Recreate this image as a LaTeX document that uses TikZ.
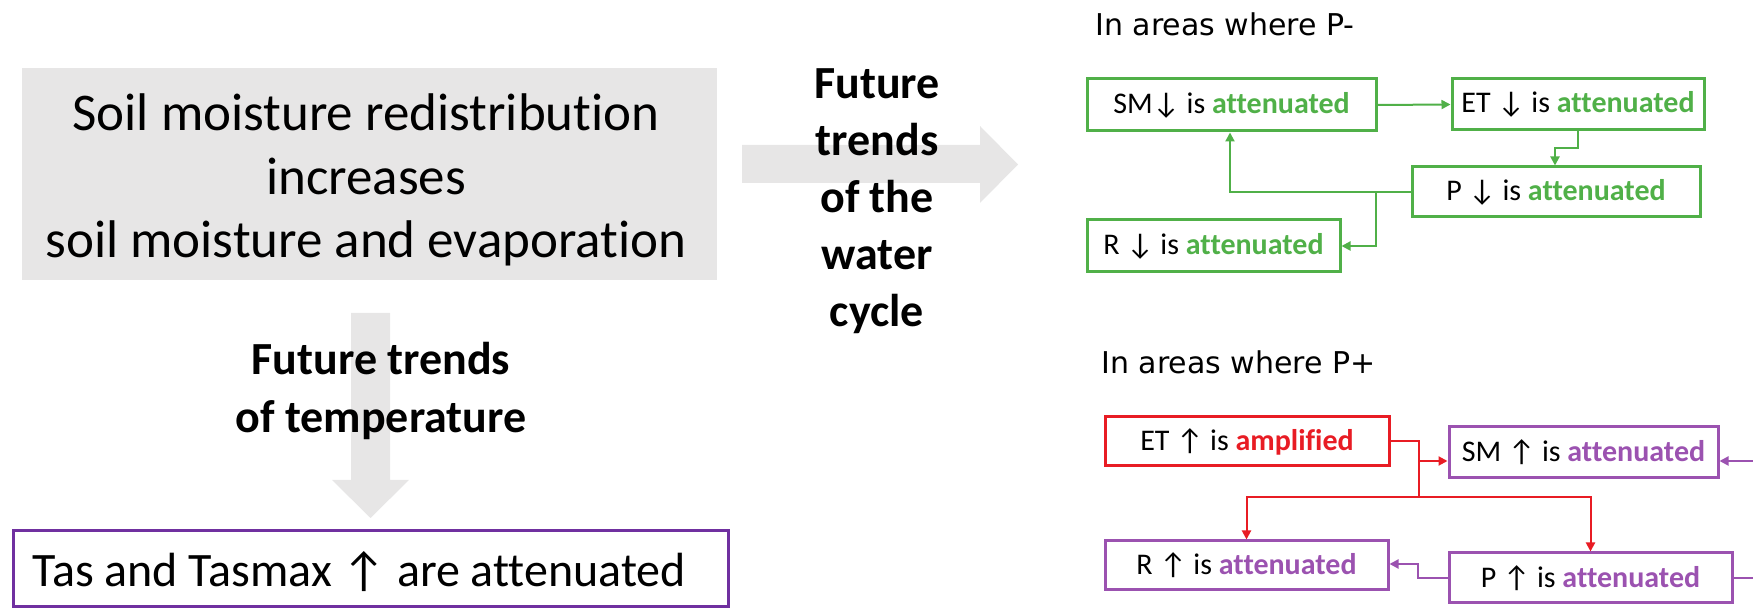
\documentclass[tikz,border=0pt]{standalone}
\usepackage{fontspec}
\setmainfont{Carlito}[Ligatures=NoCommon]
\newfontfamily\dejavu{DejaVu Sans}
\usetikzlibrary{arrows.meta}
\definecolor{grn}{RGB}{80,176,72}
\definecolor{prp}{RGB}{155,82,176}
\definecolor{rd}{RGB}{232,28,36}
\definecolor{dprp}{RGB}{112,48,160}
\definecolor{lgray}{RGB}{231,230,230}
\begin{document}
\begin{tikzpicture}[x=0.5pt,y=-0.5pt,
  box/.style={draw,line width=1.5pt,inner sep=0pt,font=\fontsize{15}{18}\selectfont},
  gbox/.style={box,draw=grn},
  pbox/.style={box,draw=prp},
  rbox/.style={box,draw=rd},
  conn/.style={line width=1pt},
  tip/.style={-{Triangle[length=4.5pt,width=4.5pt]}},
  headtxt/.style={font=\bfseries\fontsize{23}{28.5}\selectfont,align=center},
  areatxt/.style={font=\dejavu\fontsize{15}{18}\selectfont,anchor=base west,inner sep=0pt}
]
\useasboundingbox (0,0) rectangle (1753,608);

% grey source box
\node[fill=lgray,minimum width=347.5pt,minimum height=106pt,inner sep=0pt] (src) at (369.5,174) {};
\node[font=\fontsize{26.5}{31.8}\selectfont,align=center,inner sep=0pt] (srctxt) at (366,180)
  {Soil moisture redistribution\\increases\\soil moisture and evaporation};

% big grey arrows
\fill[lgray] (742,145) -- (980,145) -- (980,126) -- (1018,164.5) -- (980,203) -- (980,183) -- (742,183) -- cycle;
\fill[lgray] (351,313) -- (390,313) -- (390,480) -- (409,480) -- (370.5,518) -- (332,480) -- (351,480) -- cycle;

\node[headtxt] (wc) at (877,201) {Future\\trends\\of the\\water\\cycle};
\node[headtxt,font=\bfseries\fontsize{23}{29}\selectfont] (tt) at (381,391) {Future trends\\of temperature};

% temperature result
\node[draw=dprp,line width=1.5pt,minimum width=357.5pt,minimum height=38pt,inner sep=0pt] (tas) at (370.5,569) {};
\node[font=\fontsize{24}{28}\selectfont,anchor=base west,inner sep=0pt] (tastxt) at (32,587)
  {Tas and Tasmax ↑ are attenuated};

% P- block
\node[areatxt] (pminus) at (1095,36) {In areas where P-};
\node[gbox,minimum width=144.5pt,minimum height=26pt] (SMd) at (1231.5,105) {SM↓ is \textbf{\color{grn}attenuated}};
\node[gbox,minimum width=126pt,minimum height=25.5pt] (ETd) at (1578,104.5) {ET ↓ is \textbf{\color{grn}attenuated}};
\node[gbox,minimum width=144pt,minimum height=25pt] (Pd) at (1556,192) {P ↓ is \textbf{\color{grn}attenuated}};
\node[gbox,minimum width=126.5pt,minimum height=26pt] (Rd) at (1213.5,246) {R ↓ is \textbf{\color{grn}attenuated}};

\coordinate (e1) at (1555,148);
\coordinate (j1) at (1230,192);
\coordinate (j2) at (1376,192);
\draw[conn,grn,tip] (SMd.east) -- (ETd.west);
\draw[conn,grn,tip] (ETd.south) |- (e1) -- (e1 |- Pd.north);
\draw[conn,grn,tip] (Pd.west) -- (j1) -- (j1 |- SMd.south);
\draw[conn,grn,tip] (j2) |- (Rd.east);

% P+ block
\node[areatxt] (pplus) at (1101,374) {In areas where P+};
\node[rbox,minimum width=142pt,minimum height=24.5pt] (ETu) at (1247,441.5) {ET ↑ is \textbf{\color{rd}amplified}};
\node[pbox,minimum width=134.5pt,minimum height=25.5pt] (SMu) at (1583.5,452.5) {SM ↑ is \textbf{\color{prp}attenuated}};
\node[pbox,minimum width=141.5pt,minimum height=24.5pt] (Ru) at (1246.5,565.5) {R ↑ is \textbf{\color{prp}attenuated}};
\node[pbox,minimum width=141.5pt,minimum height=25pt] (Pu) at (1590.5,578) {P ↑ is \textbf{\color{prp}attenuated}};

\coordinate (r1) at (1419,497);
\coordinate (r2) at (1419,461);
\coordinate (p1) at (1418,564);
\coordinate (edgeA) at (1753,578);
\coordinate (edgeB) at (1753,461);
\draw[conn,rd] (ETu.east) -| (r1);
\draw[conn,rd,tip] (r2) -- (r2 -| SMu.west);
\draw[conn,rd,tip] (r1) -| (Ru.north);
\draw[conn,rd,tip] (r1) -| (Pu.north);
\draw[conn,prp,tip] (Pu.west) -| (p1) -- (p1 -| Ru.east);
\draw[conn,prp] (Pu.east) -- (edgeA);
\draw[conn,prp,tip] (edgeB) -- (edgeB -| SMu.east);
\end{tikzpicture}
\end{document}
